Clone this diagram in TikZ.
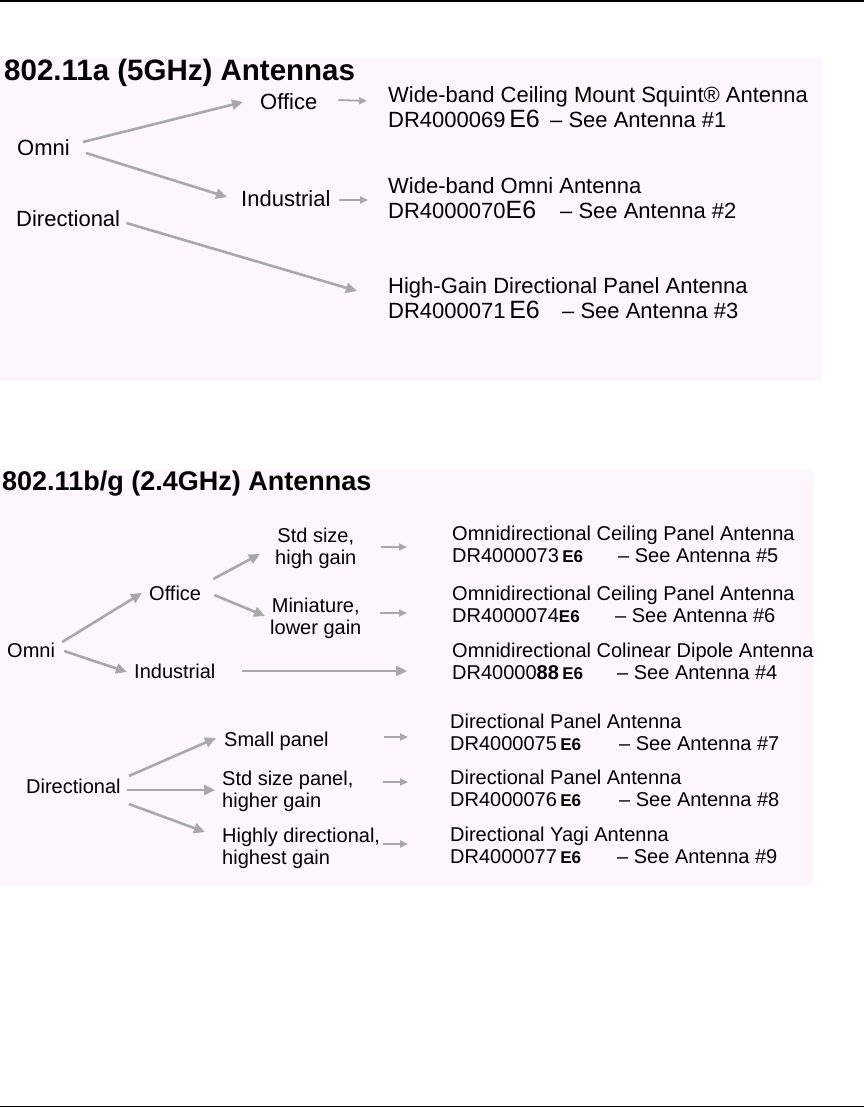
\documentclass[tikz,border=0pt]{standalone}
\usepackage{fontspec}
\setmainfont{Liberation Sans}
\usetikzlibrary{arrows.meta}
\definecolor{arrowgray}{RGB}{168,168,168}
\definecolor{panelpink}{RGB}{253,247,253}
\newcommand{\esixa}{{\fontsize{25}{25}\selectfont E6}}
\newcommand{\esixb}{{\bfseries\fontsize{17}{17}\selectfont E6}}
\tikzset{
  ttl/.style={anchor=base west, inner sep=0pt, font=\bfseries\fontsize{29.5}{32}\selectfont},
  txta/.style={anchor=base west, inner sep=0pt, align=left, font=\fontsize{22}{25}\selectfont},
  txtb/.style={anchor=base west, inner sep=0pt, align=left, font=\fontsize{20}{22}\selectfont},
  arr/.style={color=arrowgray, line width=2.6pt, -{Triangle[length=11pt,width=10pt]}},
  sarr/.style={color=arrowgray, line width=1.8pt, -{Triangle[length=8pt,width=7pt]}},
}
\begin{document}
\begin{tikzpicture}[x=1pt,y=-1pt]
        \useasboundingbox (0,0) rectangle (864,1108);
        \draw[line width=1.5pt] (0,1) -- (864,1);
        \draw[line width=1.5pt] (0,1106.5) -- (864,1106.5);
        \fill[panelpink] (0,57) rectangle (822,381);
        \fill[panelpink] (0,469) rectangle (813,886);

        % 802.11a panel
        \node[ttl] (title-a) at (4,81) {802.11a (5GHz) Antennas};
        \node[txta] (omni-a) at (17,155) {Omni};
        \node[txta] (directional-a) at (16,226) {Directional};
        \node[txta] (office-a) at (260,109) {Office};
        \node[txta] (industrial-a) at (241,206) {Industrial};
        \node[txta] (ant-1) at (388,127) {Wide-band Ceiling Mount Squint® Antenna\\\makebox[162pt][l]{DR4000069\,\esixa}-- See Antenna \#1};
        \node[txta] (ant-2) at (388,218) {Wide-band Omni Antenna\\\makebox[172pt][l]{DR4000070\esixa}-- See Antenna \#2};
        \node[txta] (ant-3) at (388,318) {High-Gain Directional Panel Antenna\\\makebox[174pt][l]{DR4000071\,\esixa}-- See Antenna \#3};

        \path[arr]
        ([shift={(13,-13)}]omni-a.base east) edge ([shift={(-17,-7)}]office-a.base west)
        ([shift={(16,-2)}]omni-a.base east) edge ([shift={(-14,-9)}]industrial-a.base west)
        ([shift={(6,-3)}]directional-a.base east) edge ([shift={(-31,-27)}]ant-3.base west)
        ;
        \path[sarr]
        ([shift={(21,-9)}]office-a.base east) edge ([shift={(-21,-26)}]ant-1.base west)
        ([shift={(8,-6)}]industrial-a.base east) edge ([shift={(-20,-18)}]ant-2.base west)
        ;

        % 802.11b/g panel
        \node[ttl, font=\bfseries\fontsize{27}{30}\selectfont] (title-bg) at (2,490) {802.11b/g (2.4GHz) Antennas};
        \node[txtb] (omni-bg) at (7,657) {Omni};
        \node[txtb] (office-bg) at (149,600) {Office};
        \node[txtb] (industrial-bg) at (134,678) {Industrial};
        \node[txtb, align=center] (stdsize-bg) at (275,564) {Std size,\\high gain};
        \node[txtb, align=center] (mini-bg) at (270,634) {Miniature,\\lower gain};
        \node[txtb] (directional-bg) at (26,793) {Directional};
        \node[txtb] (small-bg) at (224,746) {Small panel};
        \node[txtb] (stdpanel-bg) at (222,807) {Std size panel,\\higher gain};
        \node[txtb] (highly-bg) at (222,864) {Highly directional,\\highest gain};
        \node[txtb] (ant-5) at (452,562) {Omnidirectional Ceiling Panel Antenna\\\makebox[166pt][l]{DR4000073\,\esixb}-- See Antenna \#5};
        \node[txtb] (ant-6) at (452,622) {Omnidirectional Ceiling Panel Antenna\\\makebox[163pt][l]{DR4000074\esixb}-- See Antenna \#6};
        \node[txtb] (ant-4) at (452,679) {Omnidirectional Colinear Dipole Antenna\\\makebox[165pt][l]{DR40000{\bfseries 88}\,\esixb}-- See Antenna \#4};
        \node[txtb] (ant-7) at (450,750) {Directional Panel Antenna\\\makebox[169pt][l]{DR4000075\,\esixb}-- See Antenna \#7};
        \node[txtb] (ant-8) at (450,806) {Directional Panel Antenna\\\makebox[169pt][l]{DR4000076\,\esixb}-- See Antenna \#8};
        \node[txtb] (ant-9) at (450,863) {Directional Yagi Antenna\\\makebox[167pt][l]{DR4000077\,\esixb}-- See Antenna \#9};

        \path[arr]
        ([shift={(7,-15)}]omni-bg.base east) edge ([shift={(-7,-7)}]office-bg.base west)
        ([shift={(9,-6)}]omni-bg.base east) edge ([shift={(-7,-6)}]industrial-bg.base west)
        ([shift={(12,-21)}]office-bg.base east) edge ([shift={(-15,-10)}]stdsize-bg.base west)
        ([shift={(13,-5)}]office-bg.base east) edge ([shift={(-5,-18)}]mini-bg.base west)
        ([shift={(26,-7)}]industrial-bg.base east) edge ([shift={(-45,-8)}]ant-4.base west)
        ([shift={(8,-17)}]directional-bg.base east) edge ([shift={(-8,-8)}]small-bg.base west)
        ([shift={(6,-3)}]directional-bg.base east) edge ([shift={(-7,-17)}]stdpanel-bg.base west)
        ([shift={(8,11)}]directional-bg.base east) edge ([shift={(-17,-32)}]highly-bg.base west)
        ;
        \path[sarr]
        ([shift={(106,-17)}]stdsize-bg.base west) edge ([shift={(-45,-15)}]ant-5.base west)
        ([shift={(110,-21)}]mini-bg.base west) edge ([shift={(-45,-9)}]ant-6.base west)
        ([shift={(55,-9)}]small-bg.base east) edge ([shift={(-42,-13)}]ant-7.base west)
        ([shift={(161,-25)}]stdpanel-bg.base west) edge ([shift={(-42,-24)}]ant-8.base west)
        ([shift={(161,-20)}]highly-bg.base west) edge ([shift={(-42,-19)}]ant-9.base west)
        ;
\end{tikzpicture}
\end{document}
